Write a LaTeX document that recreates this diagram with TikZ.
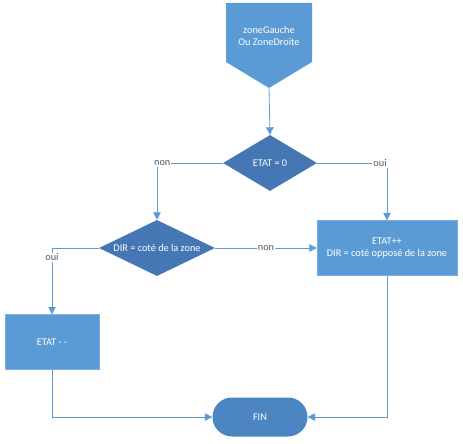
\documentclass[tikz,border=0pt]{standalone}
\usepackage{fontspec}
\setmainfont{Carlito}
\usepackage{tikz}
\usetikzlibrary{shapes.geometric, shapes.misc, arrows.meta, positioning}
\definecolor{bleu}{HTML}{5B9BD5}
\definecolor{bleufonce}{HTML}{4677B5}
\definecolor{bleufin}{HTML}{4C86C2}
\definecolor{gristexte}{HTML}{595959}
\tikzstyle{process} = [rectangle, fill=bleu, draw=bleu!80!white, text=white, align=center, inner sep=0pt]
\tikzstyle{decision} = [diamond, aspect=2, fill=bleufonce, text=white, inner sep=0pt]
\tikzstyle{terminal} = [rounded rectangle, fill=bleufin, text=white, inner sep=0pt]
\tikzstyle{arrow} = [draw=bleu, line width=0.8pt, -{Triangle[length=7.5pt,width=7.5pt]}]
\tikzstyle{lab} = [fill=white, text=gristexte, inner sep=1pt]

\begin{document}
\begin{tikzpicture}[x=1pt, y=-1pt, every node/.style={font=\fontsize{10.3}{12.5}\selectfont}]
  \useasboundingbox (0,0) rectangle (463,444);

  % Start (off-page connector)
  \fill[bleu] (226,3) -- (312,3) -- (312,62) -- (269,88) -- (226,62) -- cycle;
  \node[text=white, align=center] (debut) at (269,36) {zoneGauche\\Ou ZoneDroite};
  \coordinate (pointe) at (269,88);

  % Decisions
  \node[decision, minimum width=94, minimum height=56] (etat) at (270,163) {ETAT = 0};
  \node[decision, minimum width=116, minimum height=56] (dir) at (157,248) {DIR = coté de la zone};

  % Processes
  \node[process, minimum width=140, minimum height=55] (incr) at (387,248) {ETAT++\\DIR = coté opposé de la zone};
  \node[process, minimum width=94, minimum height=55] (decr) at (52,342) {ETAT - -};

  % End
  \node[terminal, minimum width=95, minimum height=39] (fin) at (260,417) {FIN};

  % Connections
  \draw[arrow] (pointe) -- (etat.north);
  \draw[arrow] (etat.west) -| node[lab, pos=0.46] {non} (dir.north);
  \draw[arrow] (etat.east) -| node[lab, pos=0.45] {oui} (incr.north);
  \draw[arrow] (dir.west) -| node[lab, pos=0.57] {oui} (decr.north);
  \draw[arrow] (dir.east) -- node[lab] {non} (incr.west);
  \draw[arrow] (decr.south) |- (fin.west);
  \draw[arrow] (incr.south) |- (fin.east);
\end{tikzpicture}
\end{document}
